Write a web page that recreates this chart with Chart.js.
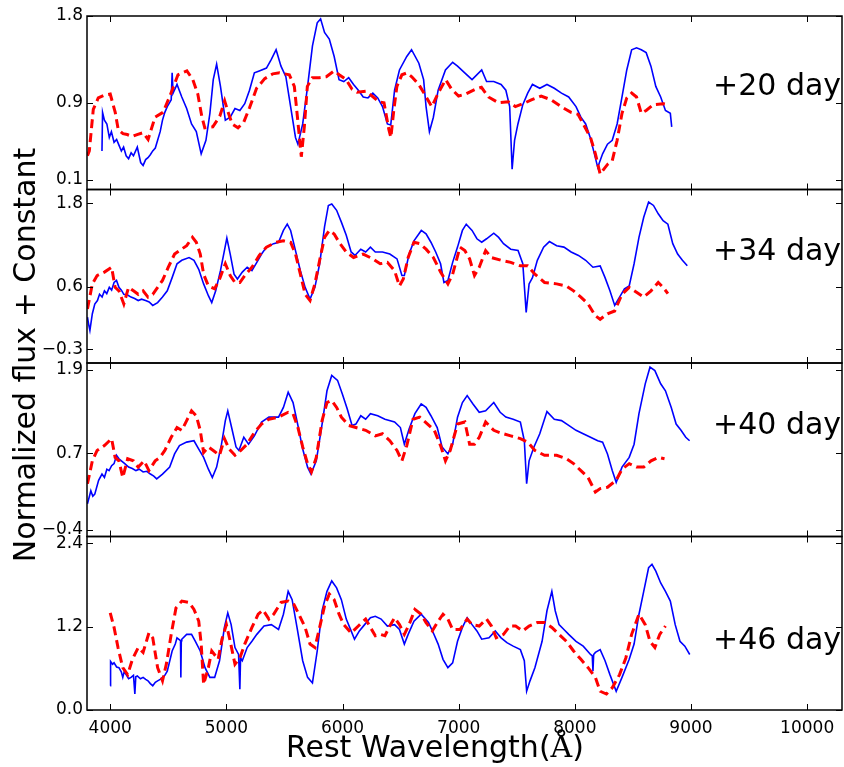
<!DOCTYPE html>
<html>
<head>
<meta charset="utf-8">
<script src="https://cdn.jsdelivr.net/npm/chart.js@4.4.1/dist/chart.umd.min.js"></script>
<style>
  html, body { margin: 0; padding: 0; background: #ffffff; }
  #wrap { width: 844px; height: 767px; }
</style>
</head>
<body>
<div id="wrap"><canvas id="spectra" width="844" height="767"></canvas></div>
<script>
// ---- data: observed spectra (blue) and model spectra (red dashed) ----
const dayLabels = ['+20 day', '+34 day', '+40 day', '+46 day'];
const xTicks = [4000, 5000, 6000, 7000, 8000, 9000, 10000];
const yTicks = [[0.1, 0.9, 1.8], [-0.3, 0.6, 1.8], [-0.4, 0.7, 1.9], [0.0, 1.2, 2.4]];
const yRanges = [[0, 1.8], [-0.5, 2.0], [-0.5, 2.0], [0, 2.5]];

const obsWave20 = [3929,3934,3950,3971,3992,4010,4033,4055,4075,4096,4115,4137,4158,4180,4200,4233,4262,4283,4305,4325,4345,4366,4388,4408,4430,4450,4470,4491,4525,4533,4541,4575,4616,4658,4700,4741,4783,4824,4858,4887,4916,4949,4991,5033,5074,5116,5158,5199,5241,5283,5345,5387,5428,5470,5512,5553,5595,5616,5657,5699,5741,5782,5811,5845,5886,5928,5970,6011,6053,6095,6136,6178,6219,6261,6303,6344,6386,6415,6448,6490,6553,6594,6657,6698,6719,6748,6782,6823,6886,6948,6990,7052,7115,7198,7240,7302,7365,7406,7439,7460,7481,7510,7552,7594,7635,7698,7760,7823,7885,7947,8010,8052,8093,8135,8197,8239,8281,8322,8364,8406,8447,8489,8531,8572,8614,8655,8697,8739,8780,8822,8834];
const obsFlux20 = [0.40,0.80,0.72,0.68,0.54,0.60,0.49,0.52,0.46,0.40,0.44,0.35,0.32,0.38,0.35,0.44,0.28,0.25,0.31,0.33,0.36,0.40,0.43,0.51,0.60,0.72,0.80,0.86,0.93,1.21,1.00,1.09,0.96,0.84,0.68,0.60,0.37,0.51,0.79,1.14,1.30,1.07,0.72,0.75,0.84,0.82,0.89,1.03,1.21,1.23,1.26,1.35,1.45,1.28,1.17,0.86,0.54,0.47,0.68,1.07,1.49,1.73,1.77,1.63,1.56,1.38,1.14,1.12,1.16,1.09,1.03,0.96,0.95,1.00,0.95,0.86,0.68,0.67,1.03,1.24,1.38,1.45,1.31,1.14,0.86,0.60,0.75,1.03,1.24,1.32,1.28,1.21,1.14,1.24,1.12,1.12,1.09,1.03,0.86,0.21,0.51,0.68,0.88,1.00,1.09,1.05,1.09,1.05,1.00,0.96,0.86,0.75,0.68,0.53,0.23,0.37,0.47,0.51,0.68,0.96,1.24,1.45,1.47,1.45,1.42,1.28,1.07,0.96,0.82,0.79,0.65];
const modWave20 = [3804,3820,3854,3897,3950,4000,4043,4069,4110,4146,4190,4231,4283,4326,4386,4454,4514,4583,4660,4711,4754,4788,4814,4883,4943,4985,5010,5050,5100,5150,5200,5260,5330,5400,5457,5542,5585,5611,5645,5671,5697,5740,5800,5860,5928,5971,6031,6082,6125,6202,6254,6314,6357,6399,6416,6442,6468,6511,6554,6596,6656,6716,6768,6828,6888,6939,6999,7059,7145,7196,7256,7342,7428,7488,7573,7625,7710,7796,7882,7967,8027,8072,8135,8177,8218,8281,8322,8364,8406,8447,8489,8531,8572,8614,8676,8760,8801];
const modFlux20 = [0.35,0.40,0.83,0.95,0.98,0.99,0.80,0.62,0.58,0.57,0.55,0.57,0.59,0.52,0.75,0.80,0.97,1.19,1.23,1.14,0.99,0.76,0.64,0.65,0.76,0.92,0.82,0.68,0.64,0.70,0.85,1.05,1.15,1.20,1.21,1.19,1.07,0.76,0.34,0.65,1.07,1.16,1.16,1.17,1.23,1.19,1.14,1.04,1.01,1.02,0.97,0.91,0.90,0.62,0.54,0.83,1.07,1.19,1.21,1.17,1.09,0.97,0.86,1.01,1.14,1.04,0.97,0.99,1.04,1.06,0.96,0.90,0.91,0.86,0.90,0.93,0.97,0.93,0.86,0.80,0.78,0.68,0.54,0.37,0.16,0.26,0.30,0.51,0.79,0.95,1.00,0.96,0.79,0.82,0.88,0.89,0.88];

const obsWave34 = [3804,3815,3825,3846,3867,3890,3908,3930,3950,3970,3992,4012,4033,4054,4075,4096,4117,4150,4179,4210,4241,4270,4304,4335,4366,4408,4450,4491,4533,4575,4616,4679,4721,4762,4804,4845,4874,4908,4949,4983,5004,5033,5066,5095,5137,5179,5220,5262,5303,5345,5407,5449,5491,5524,5553,5595,5637,5678,5720,5762,5803,5845,5878,5907,5949,5990,6032,6074,6107,6157,6199,6240,6282,6344,6407,6469,6511,6532,6573,6615,6678,6719,6761,6802,6844,6873,6907,6948,6990,7032,7065,7115,7157,7198,7240,7302,7344,7386,7448,7511,7552,7581,7606,7635,7677,7731,7781,7843,7906,7968,8031,8093,8156,8218,8260,8302,8343,8385,8427,8468,8510,8552,8593,8635,8677,8718,8760,8801,8843,8885,8926,8968];
const obsFlux34 = [0.16,0.05,-0.03,0.21,0.35,0.40,0.49,0.45,0.54,0.50,0.59,0.55,0.66,0.69,0.59,0.55,0.49,0.48,0.45,0.43,0.40,0.42,0.40,0.38,0.33,0.37,0.45,0.54,0.73,0.93,0.98,1.02,0.98,0.85,0.64,0.47,0.37,0.54,0.83,1.12,1.30,1.07,0.78,0.71,0.81,0.88,0.83,0.95,1.07,1.17,1.22,1.24,1.41,1.50,1.41,1.12,0.83,0.59,0.42,0.59,0.93,1.46,1.77,1.79,1.70,1.53,1.34,1.10,1.05,1.14,1.10,1.17,1.10,1.10,1.07,1.00,0.76,0.76,1.07,1.26,1.41,1.36,1.24,1.10,0.93,0.66,0.69,0.95,1.17,1.41,1.50,1.41,1.29,1.24,1.29,1.37,1.31,1.22,1.14,1.12,0.93,0.23,0.64,0.73,0.98,1.17,1.25,1.19,1.17,1.10,1.05,0.98,0.88,0.90,0.73,0.54,0.33,0.45,0.57,0.61,0.93,1.31,1.60,1.82,1.77,1.65,1.55,1.50,1.22,1.07,0.98,0.90];
const modWave34 = [3804,3846,3887,3950,4012,4042,4075,4117,4158,4200,4241,4283,4325,4366,4408,4450,4500,4554,4596,4658,4708,4741,4775,4804,4845,4899,4941,4991,5033,5074,5116,5158,5220,5283,5345,5428,5491,5553,5595,5637,5678,5720,5762,5803,5845,5886,5928,5970,6032,6095,6178,6261,6324,6386,6448,6490,6523,6565,6615,6665,6719,6782,6844,6907,6948,7011,7053,7094,7136,7177,7232,7281,7365,7448,7531,7594,7656,7739,7843,7927,7989,8052,8114,8177,8218,8281,8343,8406,8468,8531,8593,8656,8718,8760,8801];
const modFlux34 = [0.28,0.64,0.76,0.81,0.88,0.59,0.54,0.35,0.59,0.54,0.49,0.54,0.45,0.49,0.59,0.69,0.88,1.07,1.12,1.19,1.31,1.24,1.07,0.78,0.61,0.57,0.71,0.93,0.76,0.66,0.66,0.76,0.88,1.05,1.17,1.24,1.26,1.24,1.07,0.78,0.49,0.40,0.64,0.98,1.31,1.41,1.36,1.24,1.10,1.02,1.07,1.00,0.93,0.95,0.83,0.61,0.71,1.02,1.24,1.22,1.14,1.02,0.81,0.64,0.78,1.17,1.12,1.00,0.76,0.88,1.12,1.02,0.98,0.95,0.90,0.90,0.78,0.66,0.64,0.61,0.54,0.45,0.35,0.18,0.13,0.21,0.25,0.49,0.59,0.52,0.45,0.54,0.66,0.59,0.50];

const obsWave40 = [3804,3833,3850,3867,3900,3929,3950,3971,3990,4012,4033,4054,4075,4096,4125,4158,4190,4221,4250,4283,4315,4346,4375,4400,4450,4512,4554,4596,4658,4721,4762,4804,4845,4879,4916,4958,4991,5012,5045,5083,5108,5150,5191,5241,5303,5366,5449,5491,5532,5574,5616,5657,5699,5728,5774,5824,5866,5907,5957,5999,6040,6082,6115,6157,6199,6240,6303,6365,6448,6498,6532,6573,6623,6677,6719,6761,6815,6857,6907,6948,6990,7032,7073,7123,7177,7232,7302,7357,7406,7469,7531,7565,7585,7606,7648,7698,7760,7823,7885,7947,8010,8072,8135,8197,8239,8281,8322,8356,8406,8468,8510,8552,8606,8647,8689,8739,8780,8830,8872,8914,8955,8988];
const obsFlux40 = [-0.03,0.16,0.08,0.11,0.31,0.40,0.35,0.47,0.45,0.52,0.55,0.67,0.62,0.59,0.55,0.50,0.48,0.45,0.47,0.43,0.44,0.40,0.37,0.33,0.40,0.50,0.69,0.81,0.86,0.88,0.76,0.64,0.47,0.35,0.50,0.83,1.17,1.31,1.07,0.79,0.74,0.93,0.83,0.95,1.15,1.22,1.22,1.36,1.58,1.43,1.10,0.76,0.50,0.40,0.59,1.12,1.60,1.82,1.75,1.55,1.34,1.10,1.12,1.24,1.19,1.27,1.24,1.19,1.15,1.07,0.83,1.05,1.27,1.41,1.36,1.24,1.07,0.79,0.69,0.83,1.22,1.43,1.53,1.41,1.29,1.31,1.43,1.29,1.22,1.19,1.15,0.88,0.26,0.59,0.79,0.98,1.30,1.19,1.17,1.10,1.03,0.98,0.93,0.88,0.86,0.69,0.45,0.28,0.50,0.64,0.83,1.27,1.70,1.94,1.89,1.70,1.60,1.36,1.12,1.03,0.93,0.88];
const modWave40 = [3804,3846,3887,3950,4012,4042,4075,4108,4150,4200,4241,4292,4333,4387,4429,4470,4525,4575,4616,4658,4700,4741,4775,4804,4845,4887,4941,4983,5024,5074,5124,5178,5241,5303,5366,5449,5532,5574,5616,5657,5699,5732,5774,5824,5866,5907,5949,5990,6053,6115,6199,6282,6344,6407,6469,6511,6553,6607,6665,6732,6790,6844,6886,6927,6990,7053,7094,7136,7177,7232,7302,7365,7448,7531,7594,7656,7739,7843,7927,7989,8052,8114,8177,8218,8281,8356,8406,8468,8531,8593,8656,8718,8772];
const modFlux40 = [0.26,0.59,0.74,0.81,0.91,0.64,0.59,0.35,0.62,0.59,0.50,0.59,0.45,0.59,0.64,0.74,0.93,1.07,1.03,1.17,1.31,1.24,1.03,0.71,0.79,0.74,0.67,0.91,0.76,0.67,0.74,0.83,1.00,1.12,1.19,1.22,1.29,1.27,1.07,0.79,0.55,0.43,0.64,1.17,1.43,1.46,1.36,1.22,1.10,1.07,1.03,0.95,0.98,0.88,0.74,0.59,0.81,1.19,1.22,1.12,1.03,0.81,0.59,0.74,1.12,1.15,0.83,0.83,0.93,1.15,1.03,0.99,0.95,0.91,0.86,0.74,0.67,0.67,0.62,0.55,0.45,0.35,0.14,0.19,0.21,0.31,0.47,0.55,0.50,0.50,0.59,0.64,0.62];

const obsWave46 = [4000,4003,4020,4033,4055,4075,4095,4108,4120,4137,4158,4179,4200,4212,4220,4233,4260,4283,4305,4325,4345,4366,4388,4408,4430,4450,4470,4491,4533,4560,4575,4605,4608,4612,4616,4658,4700,4733,4775,4816,4858,4899,4941,4983,5012,5041,5074,5105,5116,5122,5137,5179,5220,5262,5324,5387,5449,5491,5532,5566,5608,5657,5699,5741,5782,5824,5866,5907,5949,5990,6032,6074,6103,6145,6190,6240,6282,6332,6386,6448,6490,6532,6565,6615,6677,6740,6782,6823,6865,6907,6948,6990,7032,7073,7115,7157,7198,7261,7315,7365,7415,7469,7531,7565,7585,7614,7656,7718,7760,7802,7831,7864,7906,7947,8010,8072,8135,8150,8156,8162,8177,8218,8260,8302,8356,8406,8468,8510,8552,8593,8635,8664,8697,8739,8780,8822,8864,8905,8947,8989];
const obsFlux46 = [0.35,0.70,0.66,0.68,0.62,0.61,0.55,0.47,0.55,0.51,0.45,0.47,0.50,0.23,0.48,0.49,0.45,0.47,0.44,0.42,0.38,0.35,0.40,0.42,0.44,0.47,0.50,0.56,0.85,0.95,1.04,1.00,0.47,1.00,1.02,1.09,1.09,0.99,0.85,0.61,0.47,0.47,0.71,1.19,1.40,1.23,0.90,0.80,0.30,0.75,0.71,0.90,0.99,1.09,1.21,1.23,1.16,1.38,1.71,1.59,1.19,0.71,0.47,0.39,0.85,1.43,1.71,1.86,1.76,1.59,1.31,1.14,1.02,1.14,1.23,1.33,1.35,1.31,1.21,1.23,1.16,0.95,1.09,1.28,1.38,1.26,1.11,0.95,0.73,0.61,0.68,0.99,1.19,1.33,1.23,1.14,1.02,1.04,1.14,1.04,0.97,0.92,0.87,0.71,0.27,0.42,0.61,0.99,1.43,1.71,1.43,1.23,1.16,1.09,0.99,0.92,0.80,0.78,0.56,0.80,0.83,0.87,0.71,0.51,0.27,0.47,0.73,0.95,1.38,1.71,2.05,2.10,2.00,1.83,1.71,1.57,1.23,0.99,0.92,0.80];
const modWave46 = [4000,4033,4067,4108,4150,4191,4241,4283,4333,4366,4408,4450,4483,4525,4566,4616,4679,4721,4762,4783,4804,4845,4874,4929,4962,5000,5033,5074,5116,5158,5220,5274,5316,5366,5407,5470,5532,5582,5624,5678,5720,5762,5803,5845,5886,5928,5970,6011,6074,6136,6199,6240,6282,6324,6365,6407,6448,6490,6532,6573,6623,6677,6719,6773,6823,6865,6907,6948,7011,7073,7115,7177,7240,7282,7323,7386,7440,7490,7552,7606,7677,7739,7802,7864,7927,7989,8052,8114,8177,8218,8272,8322,8385,8439,8489,8552,8606,8647,8689,8731,8780];
const modFlux46 = [1.40,1.19,0.90,0.61,0.51,0.73,0.90,0.83,1.11,1.04,0.61,0.42,0.66,1.09,1.47,1.57,1.55,1.45,1.28,0.95,0.37,0.61,0.85,0.73,1.02,1.23,0.99,0.66,0.75,0.95,1.19,1.38,1.44,1.31,1.38,1.55,1.57,1.52,1.38,1.19,0.95,0.90,1.19,1.50,1.67,1.59,1.38,1.23,1.11,1.21,1.31,1.19,1.07,1.09,1.07,1.21,1.33,1.23,1.09,1.23,1.45,1.38,1.26,1.14,1.28,1.38,1.31,1.16,1.16,1.31,1.23,1.21,1.31,1.21,1.04,1.09,1.21,1.21,1.14,1.21,1.26,1.26,1.19,1.09,0.99,0.85,0.73,0.61,0.47,0.27,0.23,0.32,0.51,0.75,1.09,1.38,1.23,0.99,0.90,1.09,1.21];

// where the "+N day" text sits, in data units of each panel
const labelWave = 9190;
const labelLevel = [0.98, 0.98, 0.97, 0.88];

// ---- build the chart ----
const panelIds = ['p20', 'p34', 'p40', 'p46'];
const obsWaves = [obsWave20, obsWave34, obsWave40, obsWave46];
const obsFluxes = [obsFlux20, obsFlux34, obsFlux40, obsFlux46];
const modWaves = [modWave20, modWave34, modWave40, modWave46];
const modFluxes = [modFlux20, modFlux34, modFlux40, modFlux46];

const FONT = '"DejaVu Sans", "Liberation Sans", sans-serif';
const toPoints = (xs, ys) => xs.map((x, i) => ({x: x, y: ys[i]}));
const fmtTick = v => v.toFixed(1).replace('-', '\u2212');

const datasets = [];
panelIds.forEach((id, i) => {
    datasets.push({
        label: 'model ' + dayLabels[i],
        data: toPoints(modWaves[i], modFluxes[i]),
        yAxisID: id,
        borderColor: '#ff0000',
        borderWidth: 3,
        borderDash: [9, 5],
        pointRadius: 0,
        tension: 0,
        order: 0
    });
    datasets.push({
        label: 'observed ' + dayLabels[i],
        data: toPoints(obsWaves[i], obsFluxes[i]),
        yAxisID: id,
        borderColor: '#0000ff',
        borderWidth: 1.6,
        pointRadius: 0,
        tension: 0,
        order: 1
    });
});

const scales = {
    x: {
        type: 'linear',
        position: 'bottom',
        min: 3800,
        max: 10300,
        grid: { display: false, drawTicks: false },
        border: { display: false },
        ticks: {
            color: '#000',
            font: { family: FONT, size: 17 },
            padding: 8,
            maxRotation: 0,
            autoSkip: false,
            callback: v => String(v)
        },
        afterBuildTicks: s => { s.ticks = xTicks.map(v => ({value: v})); },
        afterFit: s => { s.height = 57; }
    }
};
panelIds.forEach((id, i) => {
    scales[id] = {
        type: 'linear',
        position: 'left',
        stack: 'panels',
        stackWeight: 1,
        weight: 4 - i,
        offset: false,
        min: yRanges[i][0],
        max: yRanges[i][1],
        grid: { display: false, drawTicks: false },
        border: { display: false },
        ticks: {
            color: '#000',
            font: { family: FONT, size: 17 },
            padding: 4,
            autoSkip: false,
            callback: v => fmtTick(v)
        },
        afterBuildTicks: s => { s.ticks = yTicks[i].map(v => ({value: v})); },
        afterFit: s => { s.width = 87; }
    };
});

//frames round every panel with inward ticks on all four sides
const panelFrames = {
    id: 'panelFrames',
    afterDatasetsDraw: (chart, args, options) => {
        const {ctx, chartArea: {left, right}, scales} = chart;
        const x = scales.x;
        const tl = options.tickLength;
        ctx.save();
        ctx.strokeStyle = '#000';
        panelIds.forEach((id, i) => {
            const y = scales[id];
            ctx.lineWidth = 1;
            ctx.beginPath();
            yTicks[i].forEach(v => {
                const py = Math.round(y.getPixelForValue(v)) + 0.5;
                ctx.moveTo(left, py); ctx.lineTo(left + tl, py);
                ctx.moveTo(right, py); ctx.lineTo(right - tl, py);
            });
            xTicks.forEach(v => {
                const px = Math.round(x.getPixelForValue(v)) + 0.5;
                ctx.moveTo(px, y.top); ctx.lineTo(px, y.top + tl);
                ctx.moveTo(px, y.bottom); ctx.lineTo(px, y.bottom - tl);
            });
            ctx.stroke();
            ctx.lineWidth = options.frameWidth;
            ctx.strokeRect(left, y.top, right - left, y.bottom - y.top);
        });
        ctx.restore();
    }
};

//"+N day" texts inside each panel
const dayText = {
    id: 'dayText',
    afterDatasetsDraw: (chart, args, options) => {
        const {ctx, scales} = chart;
        ctx.save();
        ctx.fillStyle = '#000';
        ctx.font = options.size + 'px ' + FONT;
        ctx.textAlign = 'left';
        ctx.textBaseline = 'alphabetic';
        panelIds.forEach((id, i) => {
            ctx.fillText(dayLabels[i], scales.x.getPixelForValue(labelWave), scales[id].getPixelForValue(labelLevel[i]));
        });
        ctx.restore();
    }
};

//shared axis titles for the whole figure
const axisTitles = {
    id: 'axisTitles',
    afterDraw: (chart, args, options) => {
        const {ctx} = chart;
        ctx.save();
        ctx.fillStyle = '#000';
        ctx.textBaseline = 'alphabetic';
        ctx.textAlign = 'left';

        const sans = options.size + 'px ' + FONT;
        const serif = options.size + 'px "DejaVu Serif", serif';
        const parts = [[options.xText, sans], ['\u00C5', serif], [')', sans]];
        let total = 0;
        parts.forEach(p => { ctx.font = p[1]; total += ctx.measureText(p[0]).width; });
        let px = options.xCenter - total / 2;
        parts.forEach(p => {
            ctx.font = p[1];
            ctx.fillText(p[0], px, options.xBase);
            px += ctx.measureText(p[0]).width;
        });

        ctx.font = sans;
        ctx.textAlign = 'center';
        ctx.translate(options.yBase, options.yCenter);
        ctx.rotate(-Math.PI / 2);
        ctx.fillText(options.yText, 0, 0);
        ctx.restore();
    }
};

const ctx = document.getElementById('spectra');

let spectraChart = new Chart(ctx, {
    type: 'line',
    data: { datasets: datasets },
    options: {
        responsive: false,
        animation: false,
        layout: { padding: { top: 16, right: 2, left: 0, bottom: 0 } },
        scales: scales,
        plugins: {
            legend: { display: false },
            tooltip: { enabled: false },
            panelFrames: { tickLength: 6, frameWidth: 1.5 },
            dayText: { size: 30 },
            axisTitles: {
                xText: 'Rest Wavelength(',
                yText: 'Normalized flux + Constant',
                size: 30,
                xCenter: 435,
                xBase: 757,
                yCenter: 355,
                yBase: 35
            }
        }
    },
    plugins: [panelFrames, dayText, axisTitles]
});
</script>
</body>
</html>
